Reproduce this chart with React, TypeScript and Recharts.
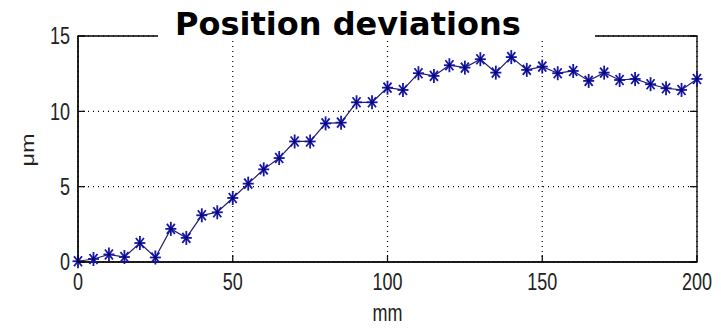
import React from 'react';
import { LineChart, Line, XAxis, YAxis, CartesianGrid, ReferenceArea } from 'recharts';

const positionsMm = [0, 5, 10, 15, 20, 25, 30, 35, 40, 45, 50, 55, 60, 65, 70, 75, 80, 85, 90, 95, 100, 105, 110, 115, 120, 125, 130, 135, 140, 145, 150, 155, 160, 165, 170, 175, 180, 185, 190, 195, 200];
const deviationsUm = [0.05, 0.2, 0.5, 0.33, 1.26, 0.3, 2.2, 1.6, 3.1, 3.3, 4.25, 5.2, 6.15, 6.9, 8.0, 8.0, 9.2, 9.25, 10.6, 10.6, 11.57, 11.42, 12.53, 12.35, 13.06, 12.9, 13.46, 12.57, 13.6, 12.75, 12.97, 12.53, 12.68, 12.02, 12.57, 12.08, 12.15, 11.8, 11.53, 11.42, 12.15];
const xTicks = [0, 50, 100, 150, 200];
const yTicks = [0, 5, 10, 15];
const title = 'Position deviations';
const xLabel = 'mm';
const yLabel = 'μm';

const data = positionsMm.map((x, i) => ({ x, y: deviationsUm[i] }));

const labelFont = "'Liberation Sans', Arial, sans-serif";
const labelColor = '#222';

function XTick(props: any) {
  const { x, y, payload } = props;
  return (
    <g>
      <line x1={x} y1={y} x2={x} y2={y - 7} stroke="#000" strokeWidth={1.2} />
      <text transform={`translate(${x},${y + 28}) scale(1,1.3)`} textAnchor="middle" fontSize={18} fontFamily={labelFont} fill={labelColor}>
        {payload.value}
      </text>
    </g>
  );
}

function YTick(props: any) {
  const { x, y, payload } = props;
  return (
    <g>
      <line x1={x} y1={y} x2={x + 7} y2={y} stroke="#000" strokeWidth={1.2} />
      <text transform={`translate(${x - 8},${y + 8.4}) scale(1,1.3)`} textAnchor="end" fontSize={18} fontFamily={labelFont} fill={labelColor}>
        {payload.value}
      </text>
    </g>
  );
}

function RightTick(props: any) {
  const { x, y } = props;
  return <line x1={x} y1={y} x2={x - 7} y2={y} stroke="#000" strokeWidth={1.2} />;
}

function XLabel(props: any) {
  const vb = props.viewBox || {};
  const cx = (vb.x || 0) + (vb.width || 0) / 2;
  const top = vb.y || 0;
  return (
    <text transform={`translate(${cx},${top + 59}) scale(1,1.3)`} textAnchor="middle" fontSize={18} fontFamily={labelFont} fill={labelColor}>
      {xLabel}
    </text>
  );
}

function Star(props: any) {
  const { cx, cy, index } = props;
  if (cx == null || cy == null) return <g key={`s${index}`} />;
  const rx = 5.5, ry = 7, dx = 4, dy = 5;
  return (
    <g key={`s${index}`} stroke="#1515a8" strokeWidth={1.8}>
      <line x1={cx - rx} y1={cy} x2={cx + rx} y2={cy} />
      <line x1={cx} y1={cy - ry} x2={cx} y2={cy + ry} />
      <line x1={cx - dx} y1={cy - dy} x2={cx + dx} y2={cy + dy} />
      <line x1={cx - dx} y1={cy + dy} x2={cx + dx} y2={cy - dy} />
      <circle cx={cx} cy={cy} r={1.7} fill="#0a0a60" stroke="none" />
    </g>
  );
}

export default function App() {
  return (
    <div style={{ position: 'absolute', left: 0, top: 0, width: 721, height: 333, background: '#fff' }}>
      <LineChart width={721} height={333} data={data} margin={{ top: 35, right: 23, bottom: 0, left: 0 }}>
        <CartesianGrid stroke="#000" strokeDasharray="1 4" strokeWidth={1.2} />
        <XAxis
          dataKey="x"
          type="number"
          domain={[0, 200]}
          ticks={xTicks}
          height={71}
          tickSize={0}
          tickMargin={0}
          tick={<XTick />}
          axisLine={{ stroke: '#000', strokeWidth: 1.2 }}
          tickLine={false}
          interval={0}
          label={<XLabel />}
        />
        <XAxis
          xAxisId="top"
          orientation="top"
          dataKey="x"
          type="number"
          domain={[0, 200]}
          ticks={xTicks}
          height={1}
          tick={false}
          tickLine={false}
          axisLine={false}
        />
        <YAxis
          type="number"
          domain={[0, 15]}
          ticks={yTicks}
          width={78}
          tickSize={0}
          tickMargin={0}
          tick={<YTick />}
          tickLine={false}
          interval={0}
          axisLine={{ stroke: '#000', strokeWidth: 1.2 }}
        />
        <YAxis
          yAxisId="right"
          orientation="right"
          type="number"
          domain={[0, 15]}
          ticks={yTicks}
          width={1}
          tickSize={0}
          tickMargin={0}
          tick={<RightTick />}
          tickLine={false}
          interval={0}
          axisLine={false}
        />
        <ReferenceArea x1={0} x2={200} y1={0} y2={15} fill="none" stroke="#000" strokeWidth={1.3} ifOverflow="visible" />
        <Line
          xAxisId="top"
          yAxisId="right"
          dataKey="y"
          type="linear"
          stroke="none"
          dot={false}
          activeDot={false}
          legendType="none"
          isAnimationActive={false}
        />
        <Line
          dataKey="y"
          type="linear"
          stroke="#202070"
          strokeWidth={1.2}
          dot={(p: any) => <Star key={`st${p.index}`} {...p} />}
          activeDot={false}
          isAnimationActive={false}
        />
        <text
          transform="translate(33.5,150) scale(1,1.3) rotate(-90)"
          textAnchor="middle"
          fontSize={18}
          fontFamily={labelFont}
          fill={labelColor}
        >
          {yLabel}
        </text>
      </LineChart>
      <div
        style={{
          position: 'absolute',
          left: 158,
          top: 8,
          width: 437,
          height: 32,
          background: '#fff',
          fontFamily: "'DejaVu Sans', Verdana, sans-serif",
          fontWeight: 'bold',
          fontSize: 32,
          lineHeight: '32px',
          paddingLeft: 17,
          boxSizing: 'border-box',
          whiteSpace: 'nowrap',
          color: '#000',
        }}
      >
        {title}
      </div>
    </div>
  );
}
